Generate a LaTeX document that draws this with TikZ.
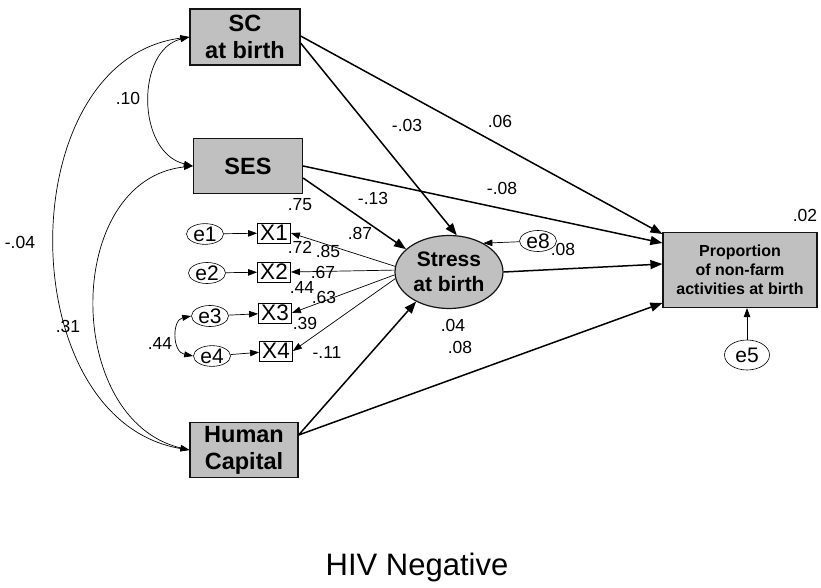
\documentclass[tikz,border=0pt]{standalone}
\usepackage{fontspec}
\setmainfont{Liberation Sans}
\usetikzlibrary{arrows.meta,shapes.geometric,positioning,calc}
\definecolor{semGray} {RGB}{192,192,192}
\definecolor{semLine} {RGB}{20, 20, 20}

\tikzset{
  obsBox/.style={draw=semLine,line width=1.2pt,fill=semGray,align=center,
                 inner sep=0pt,font=\fontsize{23.5}{27}\selectfont\bfseries},
  latEll/.style={ellipse,draw=semLine,line width=1.2pt,fill=semGray,align=center,
                 inner sep=0pt,minimum width=108pt,minimum height=73pt,
                 font=\fontsize{21}{24.5}\selectfont\bfseries},
  indBox/.style={draw,line width=0.8pt,inner sep=0pt,minimum width=33pt,
                 minimum height=20pt,font=\fontsize{22.5}{22.5}\selectfont},
  errEll/.style={ellipse,draw,line width=0.6pt,inner sep=0pt,minimum width=37pt,
                 minimum height=19pt,font=\fontsize{21}{21}\selectfont},
  coef/.style={font=\fontsize{17.5}{17.5}\selectfont,inner sep=0pt},
  semArrow/.style={line width=1.5pt,-{Triangle[length=12pt,width=9pt]}},
  thinArrow/.style={line width=0.7pt,-{Triangle[length=9pt,width=6.5pt]}},
  covArrow/.style={line width=0.7pt,
                   {Triangle[length=9pt,width=6pt]}-{Triangle[length=9pt,width=6pt]}}
}

\begin{document}
\begin{tikzpicture}[x=1pt,y=-1pt]

    \useasboundingbox (0,0) rectangle (821,588);

    % ── EXOGENAS ───────────────────────────────────────────
    \node[obsBox,minimum width=110pt,minimum height=56pt] (sc)  at (245,37) {SC\\at birth};
    \node[obsBox,minimum width=109pt,minimum height=55pt] (ses) at (248,166){SES};
    \node[obsBox,minimum width=108pt,minimum height=55pt] (hc)  at (244,450){Human\\Capital};

    % ── LATENTE ────────────────────────────────────────────
    \node[latEll] (stress) at (449,272){Stress\\at birth};

    % ── DEPENDENTE ─────────────────────────────────────────
    \node[obsBox,minimum width=154pt,minimum height=75pt,
          font=\fontsize{16}{19}\selectfont\bfseries] (prop) at (740,270){
      Proportion\\of non-farm\\activities at birth
    };

    % ── INDICADORES E ERROS ────────────────────────────────
    \node[indBox] (x1) at (274,233){X1};
    \node[indBox] (x2) at (274,272){X2};
    \node[indBox] (x3) at (275,313){X3};
    \node[indBox] (x4) at (276,351){X4};

    \node[errEll] (e1) at (205,234){e1};
    \node[errEll] (e2) at (207,273){e2};
    \node[errEll] (e3) at (210,316){e3};
    \node[errEll] (e4) at (212,356){e4};
    \node[errEll] (e8) at (538,241){e8};
    \node[errEll,minimum width=45pt,minimum height=30pt] (e5) at (747,355){e5};

    % ── CAMINHOS ───────────────────────────────────────────
    \draw[semArrow] ([yshift=1pt]sc.east)   -- ([yshift=36pt]prop.west);
    \draw[semArrow] ([yshift=-6pt]sc.east)  -- (stress.78);
    \draw[semArrow] (ses.east)              -- ([yshift=27pt]prop.west);
    \draw[semArrow] ([yshift=-12pt]ses.east)-- (stress.152);
    \draw[semArrow] (stress.east)           -- ([yshift=6pt]prop.west);
    \draw[semArrow] ([yshift=15pt]hc.east)  -- (stress.222);
    \draw[semArrow] ([yshift=15pt]hc.east)  -- ([yshift=-33pt]prop.west);

    \foreach \i/\a in {1/174,2/178,3/183,4/187}{
      \draw[thinArrow] (stress.\a) -- (x\i.east);
      \draw[thinArrow] (e\i) -- (x\i);
    }
    \draw[thinArrow] (e8) -- (stress.40);
    \draw[thinArrow] (e5) -- (e5 |- prop.south);

    % ── COVARIANCIAS ───────────────────────────────────────
    \draw[covArrow] (sc.west)  .. controls (136,50) and (136,152) .. (ses.west);
    \draw[covArrow] (sc.west)  .. controls (10,60)  and (10,420)  .. (hc.west);
    \draw[covArrow] (ses.west) .. controls (63,180) and (63,420)  .. (hc.west);
    \draw[covArrow] (e3.west)  .. controls (172,320) and (172,352) .. (e4.west);

    % ── COEFICIENTES ───────────────────────────────────────
    \node[coef] (c1)  at (128,98) {.10};
    \node[coef] (c2)  at (20,242) {-.04};
    \node[coef] (c3)  at (68,326) {.31};
    \node[coef] (c4)  at (160,343){.44};
    \node[coef] (c5)  at (300,205){.75};
    \node[coef] (c6)  at (300,247){.72};
    \node[coef] (c7)  at (328,251){.85};
    \node[coef] (c8)  at (323,272){.67};
    \node[coef] (c9)  at (302,287){.44};
    \node[coef] (c10) at (324,297){.63};
    \node[coef] (c11) at (305,323){.39};
    \node[coef] (c12) at (327,352){-.11};
    \node[coef] (c13) at (360,233){.87};
    \node[coef] (c14) at (373,198){-.13};
    \node[coef] (c15) at (407,125){-.03};
    \node[coef] (c16) at (500,121){.06};
    \node[coef] (c17) at (502,188){-.08};
    \node[coef] (c18) at (563,249){.08};
    \node[coef] (c19) at (453,325){.04};
    \node[coef] (c20) at (460,347){.08};
    \node[coef] (c21) at (805,215){.02};

    % ── TITULO ─────────────────────────────────────────────
    \node[font=\fontsize{31}{31}\selectfont] (title) at (417,567){HIV Negative};

\end{tikzpicture}
\end{document}
